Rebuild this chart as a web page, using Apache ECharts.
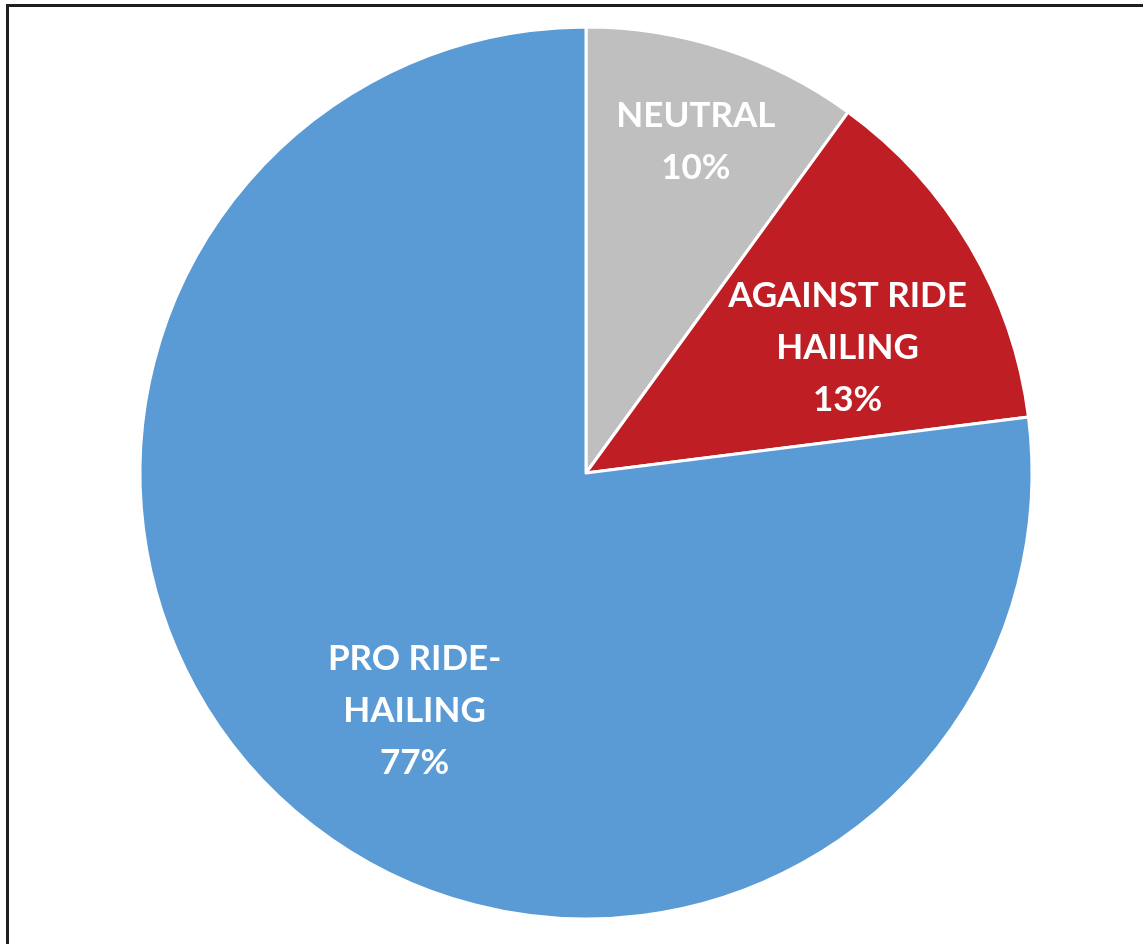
<!DOCTYPE html>
<html>
<head>
<meta charset="utf-8">
<script src="https://cdn.jsdelivr.net/npm/echarts@6/dist/echarts.min.js"></script>
<style>
  html, body { margin: 0; padding: 0; background: #fff; }
  #chart { position: absolute; left: 0; top: 0; width: 1143px; height: 944px; }
  #frame { position: absolute; left: 6px; top: 4px; width: 1143px; height: 944px;
           border-left: 3px solid #1f1f1f; border-top: 3px solid #1f1f1f; pointer-events: none; }
</style>
</head>
<body>
<div id="chart"></div>
<div id="frame"></div>
<script>
const categories = ['NEUTRAL', 'AGAINST RIDE\nHAILING', 'PRO RIDE-\nHAILING'];
const values = [10, 13, 77];
const colors = ['#BFBFBF', '#BE1E24', '#5B9BD5'];
const labelShift = [[40, -116], [67, -10], [-22, 68]];

const chart = echarts.init(document.getElementById('chart'), null, { renderer: 'canvas' });
chart.setOption({
  animation: false,
  series: [{
    type: 'pie',
    center: [586, 473],
    radius: 446,
    startAngle: 90,
    clockwise: true,
    data: categories.map((c, i) => ({ name: c, value: values[i], itemStyle: { color: colors[i] } })),
    itemStyle: { borderColor: '#ffffff', borderWidth: 3 },
    label: {
      show: true,
      position: 'inside',
      formatter: p => p.name + '\n' + p.value + '%',
      color: '#ffffff',
      fontFamily: 'Lato',
      fontWeight: 'bold',
      fontSize: 35,
      lineHeight: 52,
      align: 'center'
    },
    labelLine: { show: false },
    labelLayout: function (params) {
      const s = labelShift[params.dataIndex];
      return { dx: s[0], dy: s[1] };
    },
    emphasis: { disabled: true }
  }]
});
</script>
</body>
</html>
